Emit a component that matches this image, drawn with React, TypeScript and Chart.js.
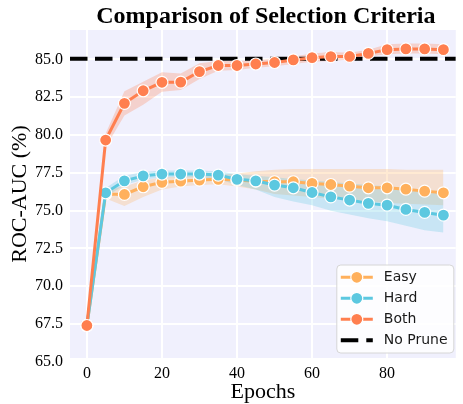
import React, { useEffect, useRef } from "react";
import { Chart, registerables } from "chart.js";

Chart.register(...registerables);

// ---------------- data ----------------
const epochs = [0, 5, 10, 15, 20, 25, 30, 35, 40, 45, 50, 55, 60, 65, 70, 75, 80, 85, 90, 95];

const easyMean = [67.4, 76.1, 76.07, 76.58, 76.87, 76.95, 77.02, 77.07, 77.02, 76.95, 76.91, 76.91, 76.8, 76.73, 76.62, 76.51, 76.51, 76.42, 76.29, 76.18];
const easyLow = [67.4, 75.8, 75.3, 75.9, 76.4, 76.6, 76.7, 76.75, 76.6, 76.4, 76.1, 76.0, 75.9, 75.8, 75.7, 75.6, 75.5, 75.45, 75.4, 75.35];
const easyHigh = [67.4, 76.4, 76.6, 77.0, 77.2, 77.25, 77.3, 77.35, 77.45, 77.6, 77.7, 77.75, 77.75, 77.75, 77.75, 77.75, 77.75, 77.7, 77.7, 77.7];

const hardMean = [67.4, 76.18, 76.97, 77.3, 77.42, 77.42, 77.42, 77.35, 77.07, 76.97, 76.69, 76.51, 76.2, 75.91, 75.7, 75.48, 75.36, 75.08, 74.88, 74.7];
const hardLow = [67.4, 75.9, 76.7, 77.05, 77.2, 77.2, 77.2, 77.1, 76.7, 76.4, 75.9, 75.6, 75.35, 75.0, 74.75, 74.5, 74.3, 74.0, 73.7, 73.55];
const hardHigh = [67.4, 76.5, 77.3, 77.55, 77.65, 77.65, 77.65, 77.6, 77.4, 77.3, 77.2, 77.1, 77.0, 76.9, 76.8, 76.7, 76.6, 76.5, 76.3, 76.2];

const bothMean = [67.4, 79.67, 82.1, 82.93, 83.49, 83.5, 84.2, 84.6, 84.6, 84.7, 84.8, 84.97, 85.12, 85.19, 85.2, 85.4, 85.65, 85.7, 85.7, 85.65];
const bothLow = [67.4, 79.2, 81.3, 82.0, 82.87, 82.98, 83.7, 84.25, 84.3, 84.45, 84.55, 84.7, 84.85, 84.9, 85.0, 85.2, 85.35, 85.4, 85.4, 85.35];
const bothHigh = [67.4, 80.1, 82.9, 83.53, 84.15, 84.08, 84.75, 84.9, 84.9, 84.95, 85.05, 85.2, 85.4, 85.5, 85.45, 85.65, 86.0, 86.05, 86.05, 86.0];

const noPruneValue = 85.05;

const xTicks = [0, 20, 40, 60, 80];
const yTicks = [65, 67.5, 70, 72.5, 75, 77.5, 80, 82.5, 85];

const seriesLabels = ["Easy", "Hard", "Both", "No Prune"];
const TITLE = "Comparison of Selection Criteria";
const X_TITLE = "Epochs";
const Y_TITLE = "ROC-AUC (%)";

// ---------------- style ----------------
const C_EASY = "#FFB05C";
const C_HARD = "#5CC8E0";
const C_BOTH = "#FF7F4F";
const C_NOPRUNE = "#000000";
const PLOT_BG = "#F0F0FD";
const SERIF = "'Liberation Serif', 'Times New Roman', Times, serif";
const SANS = "'DejaVu Sans', 'Liberation Sans', sans-serif";

function rgba(hex: string, a: number) {
  const n = parseInt(hex.slice(1), 16);
  return `rgba(${(n >> 16) & 255},${(n >> 8) & 255},${n & 255},${a})`;
}

const pts = (vals: number[]) => epochs.map((e, i) => ({ x: e, y: vals[i] }));

function lineDs(label: string, vals: number[], color: string, order: number) {
  return {
    label,
    data: pts(vals),
    borderColor: color,
    backgroundColor: color,
    borderWidth: 3,
    pointRadius: 6,
    pointHoverRadius: 6,
    pointBackgroundColor: color,
    pointBorderColor: "#ffffff",
    pointBorderWidth: 1.2,
    fill: false,
    tension: 0,
    order,
  };
}

function bandDs(vals: number[], color: string, fill: any, order: number) {
  return {
    label: "",
    data: pts(vals),
    borderWidth: 0,
    borderColor: "rgba(0,0,0,0)",
    pointRadius: 0,
    pointHoverRadius: 0,
    backgroundColor: rgba(color, 0.27),
    fill,
    tension: 0,
    order,
  };
}

const legendEntries = [
  { label: seriesLabels[0], color: C_EASY, dashed: false },
  { label: seriesLabels[1], color: C_HARD, dashed: false },
  { label: seriesLabels[2], color: C_BOTH, dashed: false },
  { label: seriesLabels[3], color: C_NOPRUNE, dashed: true },
];

const bgPlugin = {
  id: "plotBg",
  beforeDraw(chart: any) {
    const { ctx, chartArea: a } = chart;
    ctx.save();
    ctx.fillStyle = PLOT_BG;
    ctx.fillRect(a.left, a.top, a.right - a.left, a.bottom - a.top);
    ctx.restore();
  },
};

const overlayPlugin = {
  id: "overlay",
  afterDraw(chart: any) {
    const { ctx, chartArea: a } = chart;
    ctx.save();
    // title
    ctx.font = `bold 24px ${SERIF}`;
    ctx.fillStyle = "#000";
    ctx.textAlign = "center";
    ctx.textBaseline = "alphabetic";
    ctx.fillText(TITLE, (a.left + a.right) / 2 + 3, 23);

    // legend
    const bw = 117, bh = 88;
    const bx = a.right - 2 - bw;
    const by = a.bottom - 5 - bh;
    ctx.beginPath();
    const r = 4;
    ctx.moveTo(bx + r, by);
    ctx.arcTo(bx + bw, by, bx + bw, by + bh, r);
    ctx.arcTo(bx + bw, by + bh, bx, by + bh, r);
    ctx.arcTo(bx, by + bh, bx, by, r);
    ctx.arcTo(bx, by, bx + bw, by, r);
    ctx.closePath();
    ctx.fillStyle = "rgba(255,255,255,0.85)";
    ctx.fill();
    ctx.strokeStyle = "#d6d6d6";
    ctx.lineWidth = 1;
    ctx.stroke();

    legendEntries.forEach((e, i) => {
      const cy = by + 12.3 + i * 21;
      const x0 = bx + 4, x1 = bx + 36;
      ctx.beginPath();
      ctx.moveTo(x0, cy);
      ctx.lineTo(x1, cy);
      if (e.dashed) {
        ctx.setLineDash([17.5, 8]);
        ctx.lineWidth = 4;
      } else {
        ctx.setLineDash([]);
        ctx.lineWidth = 3;
      }
      ctx.strokeStyle = e.color;
      ctx.stroke();
      ctx.setLineDash([]);
      if (!e.dashed) {
        ctx.beginPath();
        ctx.arc((x0 + x1) / 2, cy, 6, 0, Math.PI * 2);
        ctx.fillStyle = e.color;
        ctx.fill();
        ctx.strokeStyle = "#fff";
        ctx.lineWidth = 1.2;
        ctx.stroke();
      }
      ctx.font = `14px ${SANS}`;
      ctx.fillStyle = "#1a1a1a";
      ctx.textAlign = "left";
      ctx.textBaseline = "middle";
      ctx.fillText(e.label, bx + 47, cy + 0.5);
    });
    ctx.restore();
  },
};

export default function App() {
  const ref = useRef<HTMLCanvasElement | null>(null);

  useEffect(() => {
    if (!ref.current) return;
    const xMin = -4.5, xMax = 98.3;
    const chart = new Chart(ref.current, {
      type: "line",
      data: {
        datasets: [
          lineDs(seriesLabels[2], bothMean, C_BOTH, 1) as any,
          {
            label: seriesLabels[3],
            data: [
              { x: xMin, y: noPruneValue },
              { x: xMax, y: noPruneValue },
            ],
            borderColor: C_NOPRUNE,
            borderWidth: 4,
            borderDash: [17.5, 7.5],
            pointRadius: 0,
            pointHoverRadius: 0,
            fill: false,
            order: 2,
          },
          lineDs(seriesLabels[1], hardMean, C_HARD, 3),
          lineDs(seriesLabels[0], easyMean, C_EASY, 4),
          bandDs(bothHigh, C_BOTH, "+1", 5),
          bandDs(bothLow, C_BOTH, false, 6),
          bandDs(hardHigh, C_HARD, "+1", 7),
          bandDs(hardLow, C_HARD, false, 8),
          bandDs(easyHigh, C_EASY, "+1", 9),
          bandDs(easyLow, C_EASY, false, 10),
        ],
      },
      options: {
        animation: false,
        responsive: false,
        devicePixelRatio: 1,
        parsing: true,
        layout: { padding: { top: 30, left: 0, right: 0, bottom: 0 } },
        plugins: {
          legend: { display: false },
          title: { display: false },
          tooltip: { enabled: false },
        },
        scales: {
          x: {
            type: "linear",
            min: xMin,
            max: xMax,
            afterBuildTicks: (s: any) => {
              s.ticks = xTicks.map((v) => ({ value: v }));
            },
            afterFit: (s: any) => {
              s.height = 46;
            },
            ticks: {
              autoSkip: false,
              maxRotation: 0,
              padding: 6,
              color: "#000",
              font: { family: SERIF, size: 16 },
              callback: (v: any) => String(v),
            },
            grid: { color: "#ffffff", lineWidth: 2, drawTicks: false },
            border: { display: false },
            title: {
              display: true,
              text: X_TITLE,
              color: "#000",
              font: { family: SERIF, size: 22, lineHeight: 1.1 },
              padding: { top: 0, bottom: 0 },
            },
          },
          y: {
            type: "linear",
            min: 65.25,
            max: 86.95,
            afterBuildTicks: (s: any) => {
              s.ticks = yTicks.map((v) => ({ value: v }));
            },
            afterFit: (s: any) => {
              s.width = 70;
            },
            ticks: {
              autoSkip: false,
              padding: 7,
              color: "#000",
              font: { family: SERIF, size: 16 },
              callback: (v: any) => Number(v).toFixed(1),
            },
            grid: { color: "#ffffff", lineWidth: 2, drawTicks: false },
            border: { display: false },
            title: {
              display: true,
              text: Y_TITLE,
              color: "#000",
              font: { family: SERIF, size: 22, lineHeight: 1.2 },
              padding: { top: 7, bottom: 0 },
            },
          },
        },
      } as any,
      plugins: [bgPlugin, overlayPlugin],
    });
    return () => chart.destroy();
  }, []);

  return (
    <div style={{ position: "absolute", left: 0, top: 0, width: 463, height: 404, background: "#fff" }}>
      <canvas ref={ref} width={463} height={404} style={{ display: "block", width: 463, height: 404 }} />
    </div>
  );
}
